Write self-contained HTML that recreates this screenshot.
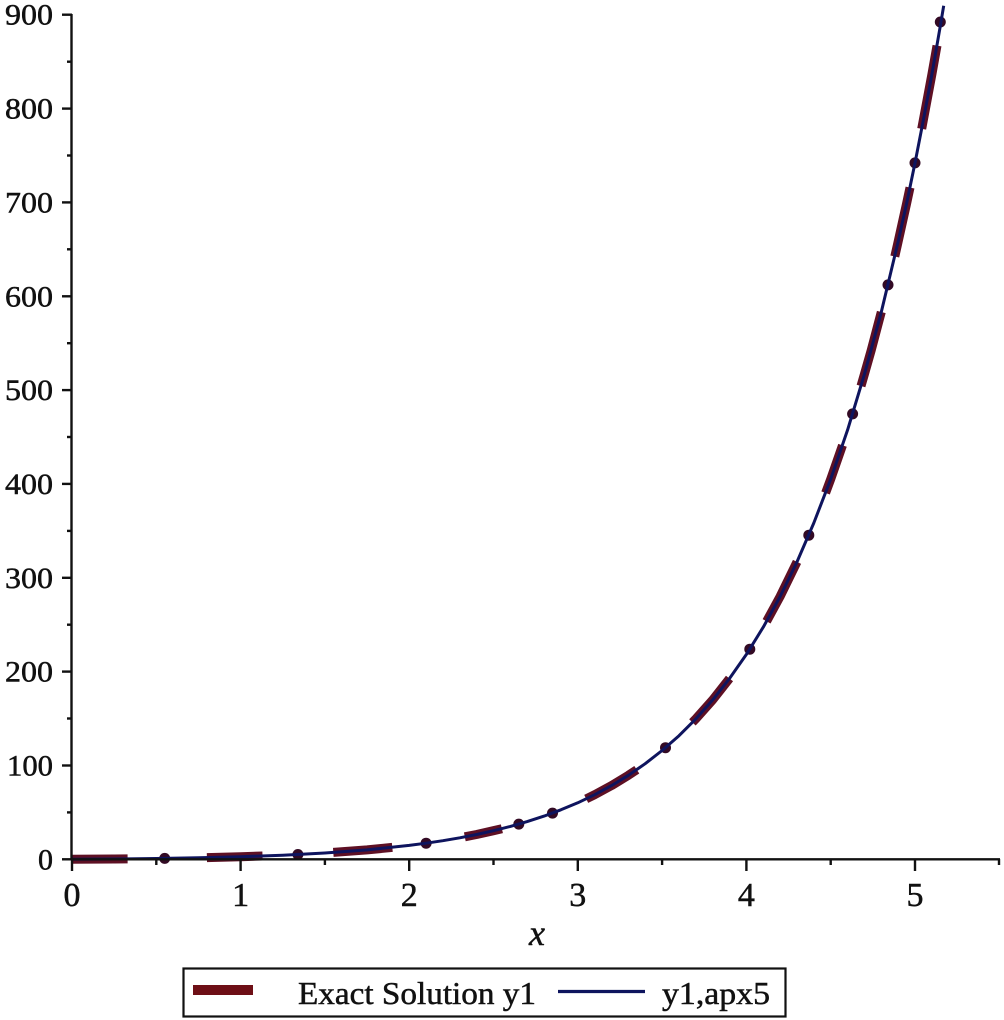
<!DOCTYPE html>
<html>
<head>
<meta charset="utf-8">
<style>
  html,body{margin:0;padding:0;background:#fff;}
  svg{display:block;}
  text{font-family:"Liberation Serif","DejaVu Serif",serif;fill:#111;stroke:#111;stroke-width:0.5;}
</style>
</head>
<body>
<svg width="1004" height="1020" viewBox="0 0 1004 1020" xmlns="http://www.w3.org/2000/svg">
  <rect width="1004" height="1020" fill="#fff"/>

  <!-- red thick dashes (Exact Solution) -->
  <g fill="none" stroke="#5e1024" stroke-width="9" stroke-linecap="butt" stroke-linejoin="round">
    <polyline points="72,859.3 114.2,859.0 127.6,858.9"/>
    <polyline points="206.9,857.6 240.6,856.7 262.5,856.0"/>
    <polyline points="333.3,852.4 367.1,849.9 392.3,847.4"/>
    <polyline points="464.8,836.8 476.6,834.5 493.5,830.7 501.9,828.7"/>
    <polyline points="586.2,798.9 594.7,794.7 611.5,785.6 628.4,775.3 636.8,769.7"/>
    <polyline points="692.4,722.4 695.8,718.9 712.7,699.9 729.5,678.5"/>
    <polyline points="766.6,621.3 780.1,596.5 797.0,561.9"/>
    <polyline points="825.6,492.9 830.7,479.2 842.5,445.3"/>
    <polyline points="861.0,386.0 864.4,374.3 871.2,350.3 881.3,312.0"/>
    <polyline points="894.8,256.5 898.1,241.8 906.6,203.5 910.0,187.6"/>
    <polyline points="921.7,128.8 931.9,74.3 937.0,45.6"/>
  </g>

  <!-- markers -->
  <g fill="#330a24">
    <circle cx="164.7" cy="858.4" r="5.5"/>
    <circle cx="297.9" cy="854.5" r="5.5"/>
    <circle cx="426.1" cy="843.2" r="5.5"/>
    <circle cx="518.8" cy="824.1" r="5.5"/>
    <circle cx="552.5" cy="813.1" r="5.5"/>
    <circle cx="665.5" cy="747.7" r="5.5"/>
    <circle cx="749.8" cy="649.2" r="5.5"/>
    <circle cx="808.8" cy="535.2" r="5.5"/>
    <circle cx="852.6" cy="413.9" r="5.5"/>
    <circle cx="888.0" cy="284.9" r="5.5"/>
    <circle cx="915.0" cy="162.9" r="5.5"/>
    <circle cx="940.3" cy="22.0" r="5.5"/>
  </g>

  <!-- blue approximation line -->
  <polyline fill="none" stroke="#0e145e" stroke-width="3" stroke-linejoin="round"
    points="72,859.3 114.2,859.0 156.3,858.5 198.5,857.8 240.6,856.7 282.8,855.2 324.9,853.0 367.1,849.9 409.2,845.4 426.1,843.2 442.9,840.7 459.8,837.8 476.6,834.5 493.5,830.7 510.4,826.4 527.2,821.6 544.1,816.1 560.9,809.8 577.8,802.8 594.7,794.7 611.5,785.6 628.4,775.3 645.2,763.7 662.1,750.5 679.0,735.7 695.8,718.9 712.7,699.9 729.5,678.5 746.4,654.4 763.3,627.1 780.1,596.5 797.0,561.9 813.8,523.0 830.7,479.2 847.6,429.9 864.4,374.3 881.3,312.0 898.1,241.8 906.6,203.5 915.0,162.9 923.4,119.9 931.9,74.3 940.3,26.0 943.7,5.8"/>

  <!-- axes -->
  <g stroke="#111" stroke-width="2.4" fill="none">
    <line x1="71.5" y1="14" x2="71.5" y2="860"/>
    <line x1="70.5" y1="859.3" x2="1000" y2="859.3"/>
    <!-- y major ticks -->
    <line x1="62" y1="859.3" x2="72" y2="859.3"/>
    <line x1="62" y1="765.5" x2="72" y2="765.5"/>
    <line x1="62" y1="671.6" x2="72" y2="671.6"/>
    <line x1="62" y1="577.8" x2="72" y2="577.8"/>
    <line x1="62" y1="483.9" x2="72" y2="483.9"/>
    <line x1="62" y1="390.1" x2="72" y2="390.1"/>
    <line x1="62" y1="296.3" x2="72" y2="296.3"/>
    <line x1="62" y1="202.4" x2="72" y2="202.4"/>
    <line x1="62" y1="108.6" x2="72" y2="108.6"/>
    <line x1="62" y1="14.7" x2="72" y2="14.7"/>
    <!-- y minor ticks -->
    <line x1="67" y1="812.4" x2="72" y2="812.4"/>
    <line x1="67" y1="718.5" x2="72" y2="718.5"/>
    <line x1="67" y1="624.7" x2="72" y2="624.7"/>
    <line x1="67" y1="530.9" x2="72" y2="530.9"/>
    <line x1="67" y1="437.0" x2="72" y2="437.0"/>
    <line x1="67" y1="343.2" x2="72" y2="343.2"/>
    <line x1="67" y1="249.3" x2="72" y2="249.3"/>
    <line x1="67" y1="155.5" x2="72" y2="155.5"/>
    <line x1="67" y1="61.7" x2="72" y2="61.7"/>
    <!-- x major ticks -->
    <line x1="72" y1="859" x2="72" y2="871"/>
    <line x1="240.6" y1="859" x2="240.6" y2="871"/>
    <line x1="409.2" y1="859" x2="409.2" y2="871"/>
    <line x1="577.8" y1="859" x2="577.8" y2="871"/>
    <line x1="746.4" y1="859" x2="746.4" y2="871"/>
    <line x1="915" y1="859" x2="915" y2="871"/>
    <!-- x minor ticks -->
    <line x1="156.3" y1="859" x2="156.3" y2="865"/>
    <line x1="324.9" y1="859" x2="324.9" y2="865"/>
    <line x1="493.5" y1="859" x2="493.5" y2="865"/>
    <line x1="662.1" y1="859" x2="662.1" y2="865"/>
    <line x1="830.7" y1="859" x2="830.7" y2="865"/>
    <line x1="999" y1="859" x2="999" y2="865"/>
  </g>

  <!-- y tick labels -->
  <g font-size="30" text-anchor="end">
    <text x="53" y="869.5" textLength="15" lengthAdjust="spacingAndGlyphs">0</text>
    <text x="53" y="775.5" textLength="46" lengthAdjust="spacingAndGlyphs">100</text>
    <text x="53" y="681.6" textLength="48" lengthAdjust="spacingAndGlyphs">200</text>
    <text x="53" y="587.8" textLength="48" lengthAdjust="spacingAndGlyphs">300</text>
    <text x="53" y="493.9" textLength="48" lengthAdjust="spacingAndGlyphs">400</text>
    <text x="53" y="400.1" textLength="48" lengthAdjust="spacingAndGlyphs">500</text>
    <text x="53" y="306.3" textLength="48" lengthAdjust="spacingAndGlyphs">600</text>
    <text x="53" y="212.4" textLength="48" lengthAdjust="spacingAndGlyphs">700</text>
    <text x="53" y="118.6" textLength="48" lengthAdjust="spacingAndGlyphs">800</text>
    <text x="53" y="24.7" textLength="48" lengthAdjust="spacingAndGlyphs">900</text>
  </g>

  <!-- x tick labels -->
  <g font-size="34" text-anchor="middle">
    <text x="72" y="906">0</text>
    <text x="240.6" y="906">1</text>
    <text x="409.2" y="906">2</text>
    <text x="577.8" y="906">3</text>
    <text x="746.4" y="906">4</text>
    <text x="915" y="906">5</text>
  </g>

  <!-- x axis label -->
  <text x="537" y="945" font-size="36" font-style="italic" text-anchor="middle">x</text>

  <!-- legend -->
  <rect x="183.5" y="968.5" width="602" height="48" fill="#fff" stroke="#111" stroke-width="2.2"/>
  <rect x="193" y="985" width="60" height="10" fill="#6e0f16"/>
  <text x="298" y="1004" font-size="32" textLength="238" lengthAdjust="spacingAndGlyphs">Exact Solution y1</text>
  <line x1="558" y1="991.5" x2="645" y2="991.5" stroke="#0e145e" stroke-width="3.2"/>
  <text x="662" y="1004" font-size="32" textLength="108" lengthAdjust="spacingAndGlyphs">y1,apx5</text>
</svg>
</body>
</html>
